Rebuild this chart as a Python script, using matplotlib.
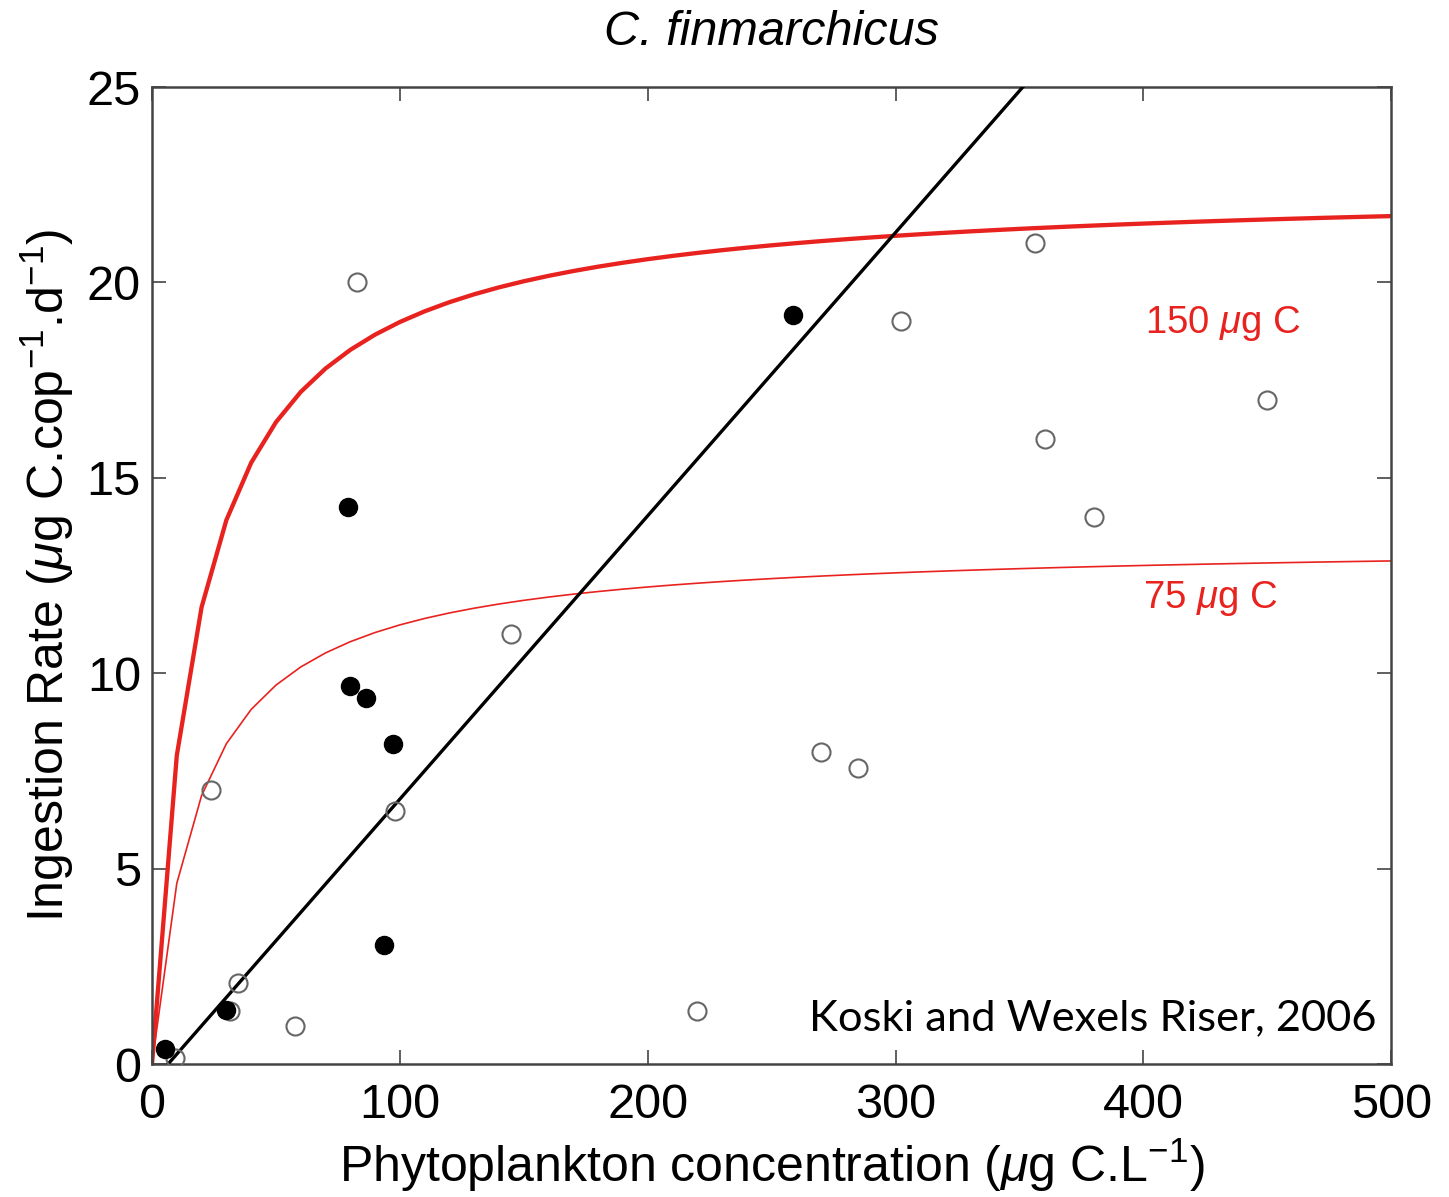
import numpy as np
import matplotlib
matplotlib.use('Agg')
import matplotlib.pyplot as plt

plt.rcParams['font.family'] = ['Liberation Sans', 'DejaVu Sans']
plt.rcParams['mathtext.fontset'] = 'custom'
plt.rcParams['mathtext.rm'] = 'Liberation Sans'
plt.rcParams['mathtext.it'] = 'Liberation Sans:italic'

# grazing observations (open = all data, filled = highlighted subset)
open_x = [82.7, 356.3, 302.3, 450.0, 360.4, 380.1, 144.9, 23.8, 98.0, 270.0,
          284.9, 34.7, 57.7, 219.9, 9.3, 31.5]
open_y = [20.0, 21.0, 19.0, 17.0, 16.0, 14.0, 11.0, 7.0, 6.47, 7.98,
          7.57, 2.07, 0.97, 1.36, 0.15, 1.36]
fill_x = [258.7, 79.1, 79.9, 86.4, 97.3, 93.6, 29.9, 5.2]
fill_y = [19.17, 14.25, 9.67, 9.37, 8.19, 3.05, 1.38, 0.38]

# linear fit
lin_slope = 0.0725
lin_x0 = 6.5

# Holling type II curves for two copepod sizes
imax_150, k_150 = 22.5, 18.5
imax_75, k_75 = 13.36, 18.9
conc = np.arange(0, 501, 10)

red = '#e8231f'

fig = plt.figure(figsize=(14.49, 11.97), dpi=100)
ax = fig.add_axes([0.1049, 0.1111, 0.8553, 0.8162])

ax.plot(conc, imax_150 * conc / (k_150 + conc), color=red, lw=3.1, zorder=2)
ax.plot(conc, imax_75 * conc / (k_75 + conc), color=red, lw=1.2, zorder=2)

xl = np.array([lin_x0, 500])
ax.plot(xl, lin_slope * (xl - lin_x0), color='black', lw=2.4, zorder=3)

ax.plot(open_x, open_y, 'o', ms=13, mfc='none', mec='#666666', mew=1.5, zorder=4)
ax.plot(fill_x, fill_y, 'o', ms=13, mfc='black', mec='black', zorder=5)

ax.text(431.8, 18.96, r'150 $\mu$g C', color=red, fontsize=27.5,
        ha='center', va='center')
ax.text(427, 11.92, r'75 $\mu$g C', color=red, fontsize=27.5,
        ha='center', va='center')
ax.text(0.988, 0.047, 'Koski and Wexels Riser, 2006', transform=ax.transAxes,
        ha='right', va='center', fontsize=31.3, family=['Lato', 'DejaVu Sans'])

ax.set_xlim(0, 500)
ax.set_ylim(0, 25)
ax.set_xticks(np.arange(0, 501, 100))
ax.set_yticks(np.arange(0, 26, 5))
ax.tick_params(direction='in', length=10, width=1.2, labelsize=35, pad=8,
               top=True, right=True, color='#444444')
ax.tick_params(axis='x', pad=14)
for s in ax.spines.values():
    s.set_color('#444444')
    s.set_linewidth(1.8)

ax.set_xlabel(r'Phytoplankton concentration ($\mu$g C.L$^{-1}$)', fontsize=36, labelpad=6)
ax.set_ylabel(r'Ingestion Rate ($\mu$g C.cop$^{-1}$.d$^{-1}$)', fontsize=36, labelpad=8)
ax.set_title('C. finmarchicus', fontsize=35, style='italic', pad=30)

fig.savefig('out.png', dpi=100)
